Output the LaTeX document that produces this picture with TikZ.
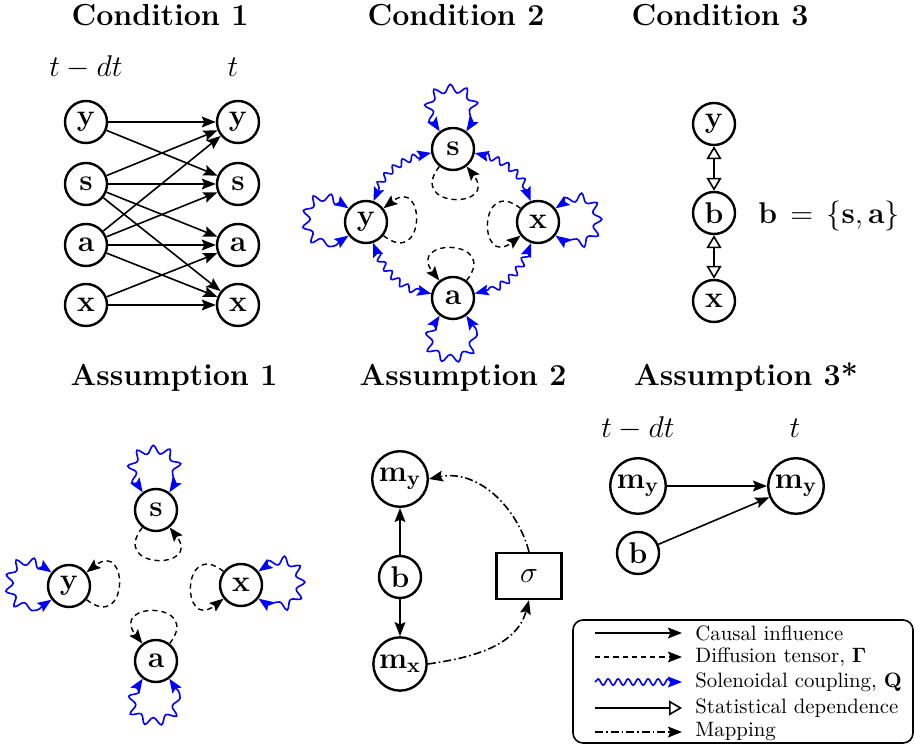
\RequirePackage{fix-cm}
\documentclass[tikz,border=0pt]{standalone}
\usetikzlibrary{arrows.meta,decorations.pathmorphing}
\newcommand{\mynodefont}{\fontsize{15}{18}\selectfont}
\newcommand{\mytitlefont}{\fontsize{15.2}{18}\selectfont\bfseries}
\newcommand{\mylegfont}{\fontsize{10.4}{12.5}\selectfont}
\tikzset{
  nd/.style={circle, draw, line width=1.2pt, minimum size=21pt, inner sep=1.5pt, font=\mynodefont},
  causal/.style={line width=0.8pt, ->},
  diff/.style={line width=0.7pt, dash pattern=on 2.6pt off 2pt, ->},
  qwave/.style={blue, line width=0.8pt, decorate, decoration={snake, amplitude=1.6pt, segment length=5.5pt, pre length=4.5pt, post length=4.5pt}},
  qloop/.style={blue, line width=0.8pt, decorate, decoration={snake, amplitude=2pt, segment length=7.5pt, pre length=4.5pt, post length=4.5pt}},
  dep/.style={line width=0.8pt, {Triangle[open,length=6.5pt,width=7.5pt]}-{Triangle[open,length=6.5pt,width=7.5pt]}},
  deponly/.style={line width=0.8pt, -{Triangle[open,length=6.5pt,width=7.5pt]}},
  mapping/.style={line width=0.8pt, dash pattern=on 4pt off 1.5pt on 0.8pt off 1.5pt, ->},
  ttl/.style={font=\mytitlefont, anchor=base},
  lbl/.style={font=\mynodefont, anchor=base},
  legtext/.style={font=\mylegfont, anchor=west, inner sep=0pt},
}
\begin{document}
\begin{tikzpicture}[x=0.5pt,y=-0.5pt, >={Stealth[length=7pt,width=5.4pt,inset=1.2pt]}]
\useasboundingbox (0,0) rectangle (915,747);

% ---------- titles ----------
\node[ttl] (t1) at (160,26) {Condition 1};
\node[ttl] (t2) at (456,26) {Condition 2};
\node[ttl] (t3) at (720,26) {Condition 3};
\node[ttl] (t4) at (174,386) {Assumption 1};
\node[ttl] (t5) at (463,386) {Assumption 2};
\node[ttl] (t6) at (746,386) {Assumption 3*};

% ---------- Condition 1 ----------
\node[lbl] (c1tl) at (86,77) {$t-dt$};
\node[lbl] (c1tr) at (233,77) {$t$};
\node[nd] (c1y0) at (86,122) {$\mathbf{y}$};
\node[nd] (c1s0) at (86,184) {$\mathbf{s}$};
\node[nd] (c1a0) at (86,245) {$\mathbf{a}$};
\node[nd] (c1x0) at (86,305) {$\mathbf{x}$};
\node[nd] (c1y1) at (238,122) {$\mathbf{y}$};
\node[nd] (c1s1) at (238,184) {$\mathbf{s}$};
\node[nd] (c1a1) at (238,245) {$\mathbf{a}$};
\node[nd] (c1x1) at (238,305) {$\mathbf{x}$};
\draw[causal] (c1y0) -- (c1y1);
\draw[causal] (c1y0) -- (c1s1);
\draw[causal] (c1s0) -- (c1y1);
\draw[causal] (c1s0) -- (c1s1);
\draw[causal] (c1s0) -- (c1a1);
\draw[causal] (c1s0) -- (c1x1);
\draw[causal] (c1a0) -- (c1y1);
\draw[causal] (c1a0) -- (c1s1);
\draw[causal] (c1a0) -- (c1a1);
\draw[causal] (c1a0) -- (c1x1);
\draw[causal] (c1x0) -- (c1a1);
\draw[causal] (c1x0) -- (c1x1);

% ---------- Condition 2 ----------
\node[nd] (c2s) at (453,149) {$\mathbf{s}$};
\node[nd] (c2y) at (366,222) {$\mathbf{y}$};
\node[nd] (c2x) at (538,222) {$\mathbf{x}$};
\node[nd] (c2a) at (453,298) {$\mathbf{a}$};
\draw[qwave,<->] (c2s) to[bend right=30] (c2y);
\draw[qwave,<->] (c2s) to[bend left=30] (c2x);
\draw[qwave,<->] (c2y) to[bend right=30] (c2a);
\draw[qwave,<->] (c2x) to[bend left=30] (c2a);
\draw[qloop,<->] (c2s.127) .. controls +(127:33pt) and +(53:33pt) .. (c2s.53);
\draw[qloop,<->] (c2y.142) .. controls +(142:33pt) and +(218:33pt) .. (c2y.218);
\draw[qloop,<->] (c2x.38) .. controls +(38:33pt) and +(-38:33pt) .. (c2x.-38);
\draw[qloop,<->] (c2a.233) .. controls +(233:33pt) and +(307:33pt) .. (c2a.307);
\draw[diff] (c2s.232) .. controls +(232:27pt) and +(308:27pt) .. (c2s.308);
\draw[diff] (c2y.-38) .. controls +(-38:27pt) and +(38:27pt) .. (c2y.38);
\draw[diff] (c2x.142) .. controls +(142:27pt) and +(218:27pt) .. (c2x.218);
\draw[diff] (c2a.52) .. controls +(52:27pt) and +(128:27pt) .. (c2a.128);

% ---------- Condition 3 ----------
\node[nd] (c3y) at (714,124) {$\mathbf{y}$};
\node[nd] (c3b) at (714,213) {$\mathbf{b}$};
\node[nd] (c3x) at (714,301) {$\mathbf{x}$};
\draw[dep] (c3y) -- (c3b);
\draw[dep] (c3b) -- (c3x);
\node[lbl, anchor=base west, inner sep=0pt, xshift=22pt] (c3eq) at (c3b.base) {$\mathbf{b}\,=\,\{\mathbf{s},\mathbf{a}\}$};

% ---------- Assumption 1 ----------
\node[nd] (a1s) at (156,510) {$\mathbf{s}$};
\node[nd] (a1y) at (69,586) {$\mathbf{y}$};
\node[nd] (a1x) at (241,585) {$\mathbf{x}$};
\node[nd] (a1a) at (156,661) {$\mathbf{a}$};
\draw[qloop,<->] (a1s.127) .. controls +(127:33pt) and +(53:33pt) .. (a1s.53);
\draw[qloop,<->] (a1y.142) .. controls +(142:33pt) and +(218:33pt) .. (a1y.218);
\draw[qloop,<->] (a1x.38) .. controls +(38:33pt) and +(-38:33pt) .. (a1x.-38);
\draw[qloop,<->] (a1a.233) .. controls +(233:33pt) and +(307:33pt) .. (a1a.307);
\draw[diff] (a1s.232) .. controls +(232:27pt) and +(308:27pt) .. (a1s.308);
\draw[diff] (a1y.-38) .. controls +(-38:27pt) and +(38:27pt) .. (a1y.38);
\draw[diff] (a1x.142) .. controls +(142:27pt) and +(218:27pt) .. (a1x.218);
\draw[diff] (a1a.52) .. controls +(52:27pt) and +(128:27pt) .. (a1a.128);

% ---------- Assumption 2 ----------
\node[nd] (a2my) at (400,479) {$\mathbf{m}_\mathbf{y}$};
\node[nd] (a2b) at (400,577) {$\mathbf{b}$};
\node[nd] (a2mx) at (400,664) {$\mathbf{m}_\mathbf{x}$};
\node[draw, line width=1.2pt, minimum width=32.5pt, minimum height=23pt, inner sep=0pt, font=\mynodefont] (a2sig) at (529,576) {$\sigma$};
\draw[causal] (a2b) -- (a2my);
\draw[causal] (a2b) -- (a2mx);
\draw[mapping] (a2mx.east) to[out=8, in=-105] (a2sig.south);
\draw[mapping] (a2sig.north) to[out=105, in=12] (a2my.east);

% ---------- Assumption 3* ----------
\node[lbl] (a3tl) at (638,438) {$t-dt$};
\node[lbl] (a3tr) at (795,438) {$t$};
\node[nd] (a3m0) at (638,486) {$\mathbf{m}_\mathbf{y}$};
\node[nd] (a3m1) at (796,486) {$\mathbf{m}_\mathbf{y}$};
\node[nd] (a3b) at (638,553) {$\mathbf{b}$};
\draw[causal] (a3m0) -- (a3m1);
\draw[causal] (a3b) -- (a3m1);

% ---------- Legend ----------
\node[draw, line width=0.8pt, rounded corners=5pt, minimum width=170pt, minimum height=61.5pt] (leg) at (743,681.5) {};
\coordinate (l1a) at (595,633); \coordinate (l1b) at (682,633);
\coordinate (l2a) at (595,657); \coordinate (l2b) at (682,657);
\coordinate (l3a) at (595,682); \coordinate (l3b) at (682,682);
\coordinate (l4a) at (595,708); \coordinate (l4b) at (682,708);
\coordinate (l5a) at (595,732); \coordinate (l5b) at (682,732);
\draw[causal] (l1a) -- (l1b);
\draw[diff] (l2a) -- (l2b);
\draw[qwave, ->, decoration={snake, amplitude=1.6pt, segment length=5pt, pre length=0pt, post length=4.5pt}] (l3a) -- (l3b);
\draw[deponly] (l4a) -- (l4b);
\draw[mapping] (l5a) -- (l5b);
\node[legtext] (lt1) at (695,633) {Causal influence};
\node[legtext] (lt2) at (695,657) {Diffusion tensor, $\mathbf{\Gamma}$};
\node[legtext] (lt3) at (695,682) {Solenoidal coupling, $\mathbf{Q}$};
\node[legtext] (lt4) at (695,708) {Statistical dependence};
\node[legtext] (lt5) at (695,732) {Mapping};
\end{tikzpicture}
\end{document}
